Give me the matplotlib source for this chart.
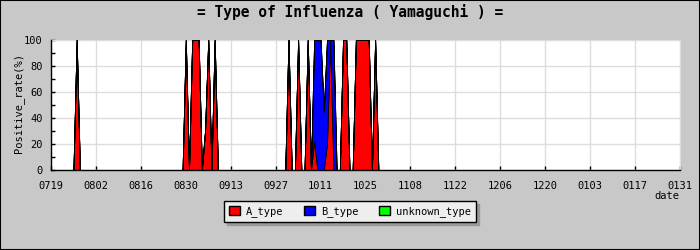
import numpy as np
import matplotlib
matplotlib.use("Agg")
import matplotlib.pyplot as plt
from matplotlib.patches import Patch, Rectangle

# tick labels every 14 days (0719 .. 0131)
tick_labels = ["0719", "0802", "0816", "0830", "0913", "0927", "1011", "1025",
               "1108", "1122", "1206", "1220", "0103", "0117", "0131"]

# daily positive rate (%), one row = two weeks
a_type = [
    0, 0, 0, 0, 0, 0, 0, 0, 100, 0, 0, 0, 0, 0,          # 0719
    0, 0, 0, 0, 0, 0, 0, 0, 0, 0, 0, 0, 0, 0,            # 0802
    0, 0, 0, 0, 0, 0, 0, 0, 0, 0, 0, 0, 0, 0,            # 0816
    100, 0, 100, 100, 100, 0, 30, 100, 0, 100, 0, 0, 0, 0,  # 0830
    0, 0, 0, 0, 0, 0, 0, 0, 0, 0, 0, 0, 0, 0,            # 0913
    0, 0, 0, 0, 100, 0, 0, 100, 0, 0, 100, 0, 22, 0,     # 0927
    0, 0, 20, 100, 0, 0, 0, 100, 100, 0, 0, 100, 100, 100,  # 1011
    100, 100, 0, 100, 0, 0, 0, 0, 0, 0, 0, 0, 0, 0,      # 1025
    0, 0, 0, 0, 0, 0, 0, 0, 0, 0, 0, 0, 0, 0,            # 1108
    0, 0, 0, 0, 0, 0, 0, 0, 0, 0, 0, 0, 0, 0,            # 1122
    0, 0, 0, 0, 0, 0, 0, 0, 0, 0, 0, 0, 0, 0,            # 1206
    0, 0, 0, 0, 0, 0, 0, 0, 0, 0, 0, 0, 0, 0,            # 1220
    0, 0, 0, 0, 0, 0, 0, 0, 0, 0, 0, 0, 0, 0,            # 0103
    0, 0, 0, 0, 0, 0, 0, 0, 0, 0, 0, 0, 0, 0,            # 0117
    0,                                                   # 0131
]
b_type = [
    0, 0, 0, 0, 0, 0, 0, 0, 0, 0, 0, 0, 0, 0,
    0, 0, 0, 0, 0, 0, 0, 0, 0, 0, 0, 0, 0, 0,
    0, 0, 0, 0, 0, 0, 0, 0, 0, 0, 0, 0, 0, 0,
    0, 0, 0, 0, 0, 0, 0, 0, 0, 0, 0, 0, 0, 0,
    0, 0, 0, 0, 0, 0, 0, 0, 0, 0, 0, 0, 0, 0,
    0, 0, 0, 0, 0, 0, 0, 0, 0, 0, 0, 0, 78, 100,
    100, 45, 80, 0, 100, 0, 0, 0, 0, 0, 0, 0, 0, 0,
    0, 0, 0, 0, 0, 0, 0, 0, 0, 0, 0, 0, 0, 0,
    0, 0, 0, 0, 0, 0, 0, 0, 0, 0, 0, 0, 0, 0,
    0, 0, 0, 0, 0, 0, 0, 0, 0, 0, 0, 0, 0, 0,
    0, 0, 0, 0, 0, 0, 0, 0, 0, 0, 0, 0, 0, 0,
    0, 0, 0, 0, 0, 0, 0, 0, 0, 0, 0, 0, 0, 0,
    0, 0, 0, 0, 0, 0, 0, 0, 0, 0, 0, 0, 0, 0,
    0, 0, 0, 0, 0, 0, 0, 0, 0, 0, 0, 0, 0, 0,
    0,
]
unknown_type = [0] * len(a_type)

days = np.arange(len(a_type))
mono = "DejaVu Sans Mono"

fig = plt.figure(figsize=(7, 2.5), dpi=100, facecolor="#c8c8c8")
ax = fig.add_axes([51 / 700, 80 / 250, 629 / 700, 130 / 250])
ax.set_facecolor("white")

ax.stackplot(days, a_type, b_type, unknown_type,
             colors=["#ff0000", "#0000ff", "#00ff00"],
             edgecolor="black", linewidth=0.6, zorder=3)

ax.set_xlim(0, len(a_type) - 1)
ax.set_ylim(0, 100)
ax.set_xticks(np.arange(0, len(a_type), 14))
ax.set_xticklabels(tick_labels, family=mono, fontsize=7.5)
ax.set_yticks(np.arange(0, 101, 20))
ax.set_yticks(np.arange(0, 101, 10), minor=True)
ax.set_yticklabels([str(v) for v in range(0, 101, 20)], family=mono, fontsize=7.5)
ax.tick_params(axis="both", which="both", direction="in", length=3, width=1,
               color="black")
ax.tick_params(axis="x", pad=8)
ax.tick_params(axis="y", pad=6)
ax.grid(True, which="major", color="#dddddd", linewidth=1, zorder=0)
ax.set_axisbelow(True)

for side in ["top", "right"]:
    ax.spines[side].set_color("#dddddd")
for side in ["left", "bottom"]:
    ax.spines[side].set_color("black")
    ax.spines[side].set_linewidth(1)
    ax.spines[side].set_zorder(5)

fig.text(0.5, 0.952, "= Type of Influenza ( Yamaguchi ) =", ha="center",
         va="center", family=mono, fontweight="bold", fontsize=10.5)
fig.text(0.027, 0.588, "Positive_rate(%)", rotation=90, ha="center",
         va="center", family=mono, fontsize=7.5)
fig.text(0.953, 0.216, "date", ha="center", va="center", family=mono,
         fontsize=7.5)

handles = [Patch(facecolor=c, edgecolor="black", label=l)
           for c, l in [("#ff0000", "A_type"), ("#0000ff", "B_type"),
                        ("#00ff00", "unknown_type")]]
leg = fig.legend(handles=handles, loc="center", bbox_to_anchor=(0.5, 0.154),
                 ncol=3, frameon=True, fancybox=False,
                 shadow={"color": "#999999", "alpha": 1},
                 prop={"family": mono, "size": 7.5},
                 handlelength=1.0, handleheight=1.0, handletextpad=0.6,
                 columnspacing=2.0, borderpad=0.5)
leg.get_frame().set_edgecolor("black")
leg.get_frame().set_facecolor("#eeeeee")
leg.get_frame().set_linewidth(1)

fig.patches.append(Rectangle((0, 0), 1, 1, transform=fig.transFigure,
                             fill=False, edgecolor="black", linewidth=1.5))

fig.savefig("out.png", dpi=100, facecolor=fig.get_facecolor())
